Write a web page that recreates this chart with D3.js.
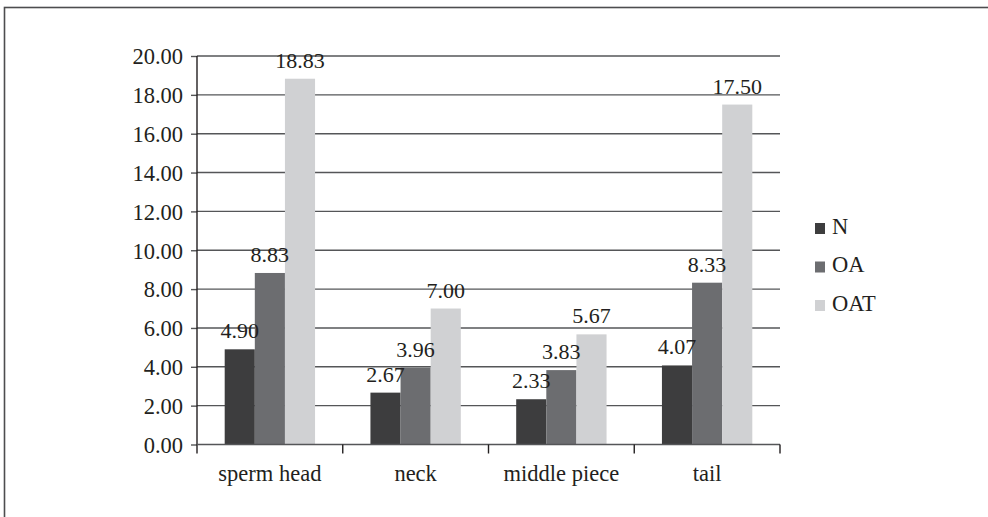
<!DOCTYPE html>
<html>
<head>
<meta charset="utf-8">
<script src="https://cdn.jsdelivr.net/npm/d3@7"></script>
</head>
<body style="margin:0;background:#fff">
<script>
// Sperm defect scores by region and group
const categories = ["sperm head", "neck", "middle piece", "tail"];
const groups = ["N", "OA", "OAT"];
const valuesN = [4.90, 2.67, 2.33, 4.07];
const valuesOA = [8.83, 3.96, 3.83, 8.33];
const valuesOAT = [18.83, 7.00, 5.67, 17.50];
const yTicks = [0, 2, 4, 6, 8, 10, 12, 14, 16, 18, 20];

const seriesValues = [valuesN, valuesOA, valuesOAT];
const colors = ["#3d3d3e", "#6c6d70", "#d0d1d3"];
const serif = "Liberation Serif";
const ink = "#231f20";

const W = 988, H = 517;
const plot = { left: 197, right: 780, top: 56, bottom: 444.5 };

const svg = d3.select("body").append("svg")
  .attr("width", W).attr("height", H)
  .style("display", "block")
  .attr("font-family", serif);

// Frame around the figure
svg.append("rect")
  .attr("x", 4.5).attr("y", 7.5)
  .attr("width", W + 10).attr("height", H + 10)
  .attr("fill", "none").attr("stroke", "#4d4d4f").attr("stroke-width", 1.6);

const x = d3.scaleBand().domain(categories).range([plot.left, plot.right]).paddingInner(0).paddingOuter(0);
const x1 = d3.scaleBand().domain(groups).range([0, x.bandwidth() * 0.62]);
const groupOffset = (x.bandwidth() - x.bandwidth() * 0.62) / 2;
const y = d3.scaleLinear().domain([0, 20]).range([plot.bottom, plot.top]);

// Horizontal gridlines
svg.append("g").selectAll("line").data(yTicks.filter(d => d > 0)).join("line")
  .attr("x1", plot.left).attr("x2", plot.right)
  .attr("y1", d => y(d)).attr("y2", d => y(d))
  .attr("stroke", "#555658").attr("stroke-width", 1.4);

// Bars
const rows = categories.map((c, i) => ({ c, vals: seriesValues.map((s, k) => ({ g: groups[k], v: s[i], k })) }));
const gCat = svg.append("g").selectAll("g").data(rows).join("g")
  .attr("transform", d => `translate(${x(d.c) + groupOffset},0)`);
gCat.selectAll("rect").data(d => d.vals).join("rect")
  .attr("x", d => x1(d.g))
  .attr("width", x1.bandwidth())
  .attr("y", d => y(d.v))
  .attr("height", d => y(0) - y(d.v))
  .attr("fill", d => colors[d.k]);

// Value labels
gCat.selectAll("text").data(d => d.vals).join("text")
  .attr("x", d => x1(d.g) + x1.bandwidth() / 2)
  .attr("y", d => y(d.v) - 11)
  .attr("text-anchor", "middle")
  .attr("font-family", serif).attr("font-size", 22).attr("fill", ink)
  .text(d => d.v.toFixed(2));

// Y axis
const yAxis = d3.axisLeft(y).tickValues(yTicks).tickFormat(d3.format(".2f")).tickSize(6).tickPadding(8);
const gy = svg.append("g").attr("transform", `translate(${plot.left},0)`).call(yAxis)
  .attr("font-family", serif).attr("font-size", 22.5);
gy.select(".domain").remove();
gy.selectAll(".tick line").attr("stroke", "#555658").attr("stroke-width", 1.4);
gy.selectAll(".tick text")
  .attr("font-family", serif).attr("font-size", 22.5).attr("fill", ink)
  .attr("dy", "0.35em");
svg.append("line")
  .attr("x1", plot.left).attr("x2", plot.left)
  .attr("y1", plot.top).attr("y2", plot.bottom + 9)
  .attr("stroke", ink).attr("stroke-width", 1.4);

// X axis baseline, category dividers and labels
svg.append("line")
  .attr("x1", plot.left).attr("x2", plot.right)
  .attr("y1", y(0)).attr("y2", y(0))
  .attr("stroke", "#555658").attr("stroke-width", 1.4);
svg.append("g").selectAll("line").data(categories).join("line")
  .attr("x1", d => x(d) + x.bandwidth()).attr("x2", d => x(d) + x.bandwidth())
  .attr("y1", y(0)).attr("y2", y(0) + 9)
  .attr("stroke", ink).attr("stroke-width", 1.4);
svg.append("g").selectAll("text").data(categories).join("text")
  .attr("x", d => x(d) + x.bandwidth() / 2)
  .attr("y", 480.5)
  .attr("text-anchor", "middle")
  .attr("font-family", serif).attr("font-size", 22.5).attr("fill", ink)
  .text(d => d);

// Legend
const legend = svg.append("g").attr("transform", "translate(815,223)");
const li = legend.selectAll("g").data(groups).join("g")
  .attr("transform", (d, i) => `translate(0,${i * 38.5})`);
li.append("rect").attr("width", 10).attr("height", 11).attr("fill", (d, i) => colors[i]);
li.append("text").attr("x", 17).attr("y", 10.5)
  .attr("font-family", serif).attr("font-size", 22.5).attr("fill", ink)
  .text(d => d);
</script>
</body>
</html>
